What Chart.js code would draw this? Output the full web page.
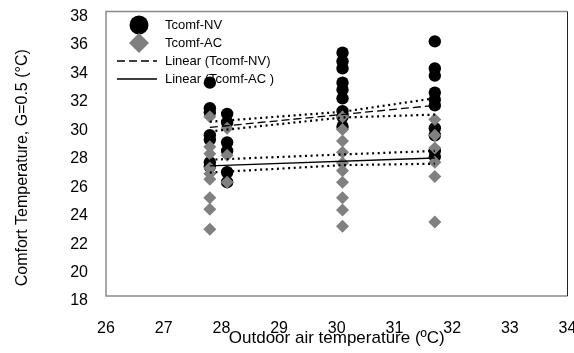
<!DOCTYPE html>
<html>
<head>
<meta charset="utf-8">
<script src="https://cdn.jsdelivr.net/npm/chart.js@4.4.0/dist/chart.umd.min.js"></script>
<style>
  html, body { margin: 0; padding: 0; background: #fff; }
  canvas { display: block; }
</style>
</head>
<body>
<canvas id="comfortChart" width="574" height="353"></canvas>
<script>
// Outdoor air temperature of each measurement group (ºC)
const outdoorTemps = [27.8, 28.1, 30.1, 31.7];

// Comfort temperatures per group
const nvComfort = [
  [33.0, 31.2, 30.9, 29.3, 29.0, 27.4, 27.1],
  [30.8, 30.2, 28.8, 28.2, 26.7, 26.0],
  [35.1, 34.5, 34.0, 33.0, 32.5, 31.9, 31.0, 30.6, 29.9],
  [35.9, 34.0, 33.5, 32.3, 31.8, 31.4, 29.8, 29.3, 28.2, 27.8]
];
const acComfort = [
  [30.6, 28.5, 28.0, 27.0, 26.6, 26.2, 24.9, 24.1, 22.7],
  [29.8, 27.9, 26.0],
  [30.6, 29.7, 28.9, 28.1, 27.35, 26.8, 26.0, 24.9, 24.05, 22.9],
  [30.4, 29.3, 28.4, 27.4, 26.4, 23.2]
];

// Linear trend lines
const trendX = [27.8, 31.7];
const nvTrend = [29.85, 31.4];
const acTrend = [27.15, 27.7];

// Dotted confidence bands
const bandX = [27.8, 30.1, 31.7];
const nvUpper = [30.25, 30.95, 31.9];
const nvLower = [29.57, 30.55, 30.75];
const acUpper = [27.58, 27.95, 28.2];
const acLower = [26.68, 27.2, 27.3];

// Axis ticks
const xTicks = [26, 27, 28, 29, 30, 31, 32, 33, 34];
const yTicks = [18, 20, 22, 24, 26, 28, 30, 32, 34, 36, 38];

const toPoints = (groups) => groups.flatMap((ys, i) => ys.map(y => ({ x: outdoorTemps[i], y })));
const zipLine = (xs, ys) => xs.map((x, i) => ({ x, y: ys[i] }));

const FONT = "'Liberation Sans', Arial, sans-serif";
const Y_TITLE = 'Comfort Temperature, G=0.5 (°C)';

// Plot frame: gray on three sides, dark on the right
const plotFrame = {
  id: 'plotFrame',
  afterDraw(chart) {
    const { ctx, chartArea: a } = chart;
    ctx.save();
    ctx.strokeStyle = '#8a8a8a';
    ctx.lineWidth = 1.5;
    ctx.beginPath();
    ctx.moveTo(a.right, a.top);
    ctx.lineTo(a.left, a.top);
    ctx.lineTo(a.left, a.bottom);
    ctx.lineTo(a.right, a.bottom);
    ctx.stroke();
    ctx.strokeStyle = '#222';
    ctx.lineWidth = 1;
    ctx.beginPath();
    ctx.moveTo(a.right, a.top);
    ctx.lineTo(a.right, a.bottom);
    ctx.stroke();
    ctx.restore();
  }
};

// Y title sits a bit below the axis centre in the original
const yTitle = {
  id: 'yTitle',
  afterDraw(chart) {
    const { ctx, chartArea: a } = chart;
    ctx.save();
    ctx.translate(23, (a.top + a.bottom) / 2 + 14);
    ctx.rotate(-Math.PI / 2);
    ctx.font = '16px ' + FONT;
    ctx.fillStyle = '#000';
    ctx.textAlign = 'center';
    ctx.textBaseline = 'middle';
    ctx.fillText(Y_TITLE, 0, 0);
    ctx.restore();
  }
};

// Legend drawn inside the plot, top-left
const insideLegend = {
  id: 'insideLegend',
  afterDraw(chart) {
    const { ctx, chartArea: a } = chart;
    const items = chart.data.datasets.filter(d => d.inLegend);
    ctx.save();
    ctx.font = '13px ' + FONT;
    ctx.textBaseline = 'middle';
    ctx.fillStyle = '#000';
    items.forEach((d, i) => {
      const y = a.top + 13.5 + i * 18;
      const cx = a.left + 33;
      if (d.showLine) {
        ctx.strokeStyle = d.borderColor;
        ctx.lineWidth = d.borderWidth;
        ctx.setLineDash(d.borderDash || []);
        ctx.beginPath();
        ctx.moveTo(a.left + 11, y);
        ctx.lineTo(a.left + 51, y);
        ctx.stroke();
        ctx.setLineDash([]);
      } else {
        ctx.fillStyle = d.backgroundColor;
        ctx.beginPath();
        if (d.pointStyle === 'rectRot') {
          const r = 10;
          ctx.moveTo(cx, y - r);
          ctx.lineTo(cx + r, y);
          ctx.lineTo(cx, y + r);
          ctx.lineTo(cx - r, y);
          ctx.closePath();
        } else {
          ctx.arc(cx, y, 9.5, 0, Math.PI * 2);
        }
        ctx.fill();
        ctx.fillStyle = '#000';
      }
      ctx.fillText(d.label, a.left + 59, y);
    });
    ctx.restore();
  }
};

const dottedBand = (label, xs, ys) => ({
  label,
  data: zipLine(xs, ys),
  showLine: true,
  fill: false,
  borderColor: '#000',
  borderWidth: 2.2,
  borderDash: [2, 3.6],
  pointRadius: 0,
  order: 1
});

new Chart(document.getElementById('comfortChart'), {
  type: 'scatter',
  data: {
    datasets: [
      {
        label: 'Tcomf-NV',
        data: toPoints(nvComfort),
        pointStyle: 'circle',
        pointRadius: 6.2,
        backgroundColor: '#000',
        borderColor: '#000',
        borderWidth: 0,
        inLegend: true,
        order: 6
      },
      {
        label: 'Tcomf-AC',
        data: toPoints(acComfort),
        pointStyle: 'rectRot',
        pointRadius: 6.5,
        backgroundColor: '#808080',
        borderColor: '#808080',
        borderWidth: 0,
        inLegend: true,
        order: 5
      },
      {
        label: 'Linear (Tcomf-NV)',
        data: zipLine(trendX, nvTrend),
        showLine: true,
        fill: false,
        borderColor: '#000',
        borderWidth: 1.3,
        borderDash: [8, 4],
        pointRadius: 0,
        inLegend: true,
        order: 2
      },
      {
        label: 'Linear (Tcomf-AC )',
        data: zipLine(trendX, acTrend),
        showLine: true,
        fill: false,
        borderColor: '#000',
        borderWidth: 1.3,
        pointRadius: 0,
        inLegend: true,
        order: 2
      },
      dottedBand('NV upper', bandX, nvUpper),
      dottedBand('NV lower', bandX, nvLower),
      dottedBand('AC upper', bandX, acUpper),
      dottedBand('AC lower', bandX, acLower)
    ]
  },
  options: {
    responsive: false,
    animation: false,
    layout: { padding: { top: 11.5, right: 6, left: 0, bottom: 0 } },
    plugins: {
      legend: { display: false },
      tooltip: { enabled: false }
    },
    scales: {
      x: {
        type: 'linear',
        min: 26,
        max: 34,
        afterBuildTicks: s => { s.ticks = xTicks.map(v => ({ value: v })); },
        afterFit: s => { s.height = 57; s.paddingLeft = 0; s.paddingRight = 0; },
        grid: { display: false, drawTicks: false },
        border: { display: false },
        ticks: {
          color: '#000',
          font: { family: FONT, size: 16 },
          padding: 23,
          maxRotation: 0,
          autoSkip: false
        },
        title: {
          display: true,
          text: 'Outdoor air temperature (ºC)',
          color: '#000',
          font: { family: FONT, size: 17 },
          padding: { top: 0, bottom: 4 }
        }
      },
      y: {
        type: 'linear',
        min: 18,
        max: 38,
        afterBuildTicks: s => { s.ticks = yTicks.map(v => ({ value: v })); },
        afterFit: s => { s.width = 106; s.paddingTop = 0; s.paddingBottom = 0; },
        grid: { display: false, drawTicks: false },
        border: { display: false },
        ticks: {
          color: '#000',
          font: { family: FONT, size: 16 },
          padding: 18,
          labelOffset: 5,
          autoSkip: false
        },
        title: { display: false }
      }
    }
  },
  plugins: [plotFrame, yTitle, insideLegend]
});
</script>
</body>
</html>
